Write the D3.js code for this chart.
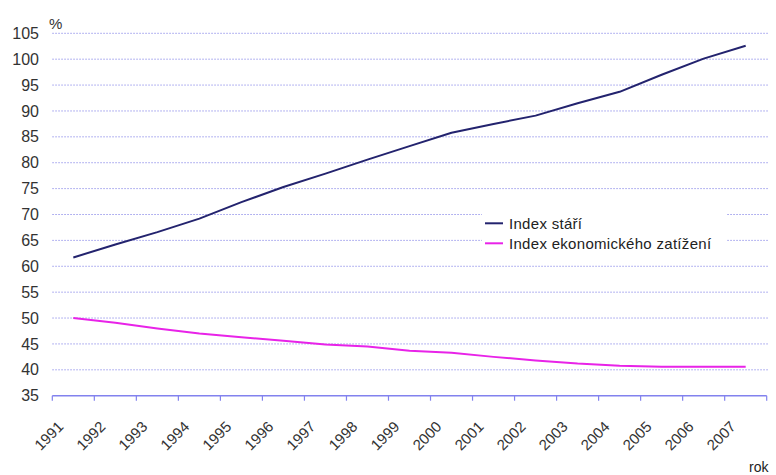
<!DOCTYPE html>
<html>
<head>
<meta charset="utf-8">
<script src="https://cdn.jsdelivr.net/npm/d3@7"></script>
<style>
  html, body { margin: 0; padding: 0; background: #fff; }
  svg { display: block; }
</style>
</head>
<body>
<svg id="chart" width="776" height="475"></svg>
<script>
const years = ["1991","1992","1993","1994","1995","1996","1997","1998","1999","2000","2001","2002","2003","2004","2005","2006","2007"];
const indexStari = [61.7, 64.2, 66.6, 69.2, 72.4, 75.3, 77.9, 80.6, 83.2, 85.8, 87.5, 89.1, 91.5, 93.7, 97.0, 100.1, 102.6];
const indexZatizeni = [50.0, 49.1, 48.0, 47.0, 46.3, 45.6, 44.9, 44.5, 43.7, 43.3, 42.5, 41.8, 41.2, 40.8, 40.6, 40.6, 40.6];
const yTicks = [35, 40, 45, 50, 55, 60, 65, 70, 75, 80, 85, 90, 95, 100, 105];
const seriesNames = ["Index stáří", "Index ekonomického zatížení"];
const seriesColors = ["#23236e", "#e823e8"];

const svg = d3.select("#chart");
const x = d3.scaleBand().domain(years).range([52.3, 766.7]).padding(0);
const y = d3.scaleLinear().domain([35, 105]).range([395.7, 33.3]);
const font = "Arial, 'Liberation Sans', sans-serif";
const textColor = "#333";

// gridlines
svg.append("g").selectAll("line")
  .data(yTicks.filter(d => d > 35))
  .join("line")
  .attr("x1", 52.3).attr("x2", 768)
  .attr("y1", d => y(d)).attr("y2", d => y(d))
  .attr("stroke", "#9c9cec")
  .attr("stroke-width", 1)
  .attr("stroke-dasharray", "1.5,1.5");

// y axis labels
const yAxis = svg.append("g").attr("transform", "translate(39,0)")
  .call(d3.axisLeft(y).tickValues(yTicks).tickSize(0).tickPadding(0));
yAxis.select(".domain").remove();
yAxis.selectAll("text")
  .attr("font-family", font).attr("font-size", "16px").attr("fill", textColor);

// % label
svg.append("text").attr("x", 49).attr("y", 29)
  .attr("font-family", font).attr("font-size", "15px").attr("fill", textColor)
  .text("%");

// x axis line and ticks
svg.append("line")
  .attr("x1", x.range()[0]).attr("x2", x.range()[1])
  .attr("y1", y(35)).attr("y2", y(35))
  .attr("stroke", "#8282ee").attr("stroke-width", 1.5);
const tickXs = years.map(d => x(d)).concat([x.range()[1]]);
svg.append("g").selectAll("line")
  .data(tickXs).join("line")
  .attr("x1", d => d).attr("x2", d => d)
  .attr("y1", y(35)).attr("y2", y(35) + 5)
  .attr("stroke", "#8282ee").attr("stroke-width", 1.2);

// x labels
const xAxis = svg.append("g").attr("transform", `translate(0,${y(35)})`)
  .call(d3.axisBottom(x).tickSize(0));
xAxis.select(".domain").remove();
xAxis.selectAll("text")
  .attr("font-family", font).attr("font-size", "15px").attr("fill", textColor)
  .attr("text-anchor", "end")
  .attr("dy", null)
  .attr("y", 0)
  .attr("transform", "translate(-9,32) rotate(-45)");

// rok
svg.append("text").attr("x", 749).attr("y", 472)
  .attr("font-family", font).attr("font-size", "14px").attr("fill", "#222")
  .text("rok");

// lines
const line = d3.line()
  .x((d, i) => x(years[i]) + x.bandwidth() / 2)
  .y(d => y(d));
[indexStari, indexZatizeni].forEach((s, i) => {
  svg.append("path").datum(s)
    .attr("fill", "none")
    .attr("stroke", seriesColors[i])
    .attr("stroke-width", 2)
    .attr("stroke-linejoin", "round")
    .attr("d", line);
});

// legend
svg.append("rect").attr("x", 482).attr("y", 202).attr("width", 245).attr("height", 52).attr("fill", "#fff");
const lg = svg.append("g");
seriesNames.forEach((n, i) => {
  const yy = 223.3 + i * 20;
  lg.append("line").attr("x1", 485).attr("x2", 503).attr("y1", yy).attr("y2", yy)
    .attr("stroke", seriesColors[i]).attr("stroke-width", 2);
  lg.append("text").attr("x", 509).attr("y", yy).attr("dy", "0.35em")
    .attr("font-family", font).attr("font-size", "15px").attr("fill", "#222")
    .attr("letter-spacing", "0.3px")
    .text(n);
});
</script>
</body>
</html>
